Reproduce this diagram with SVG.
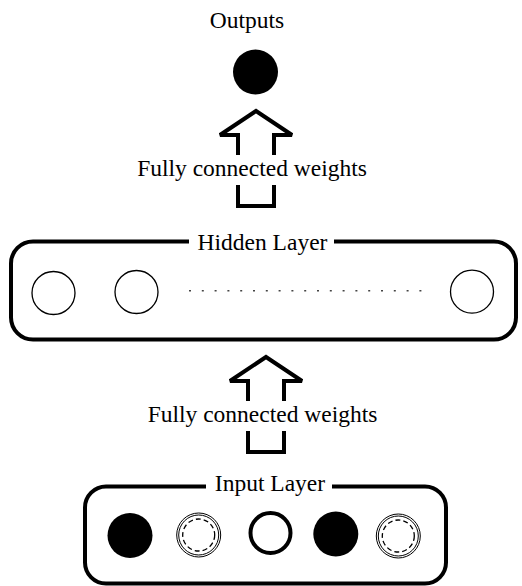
<svg xmlns="http://www.w3.org/2000/svg" width="522" height="586" viewBox="0 0 522 586">
  <style>
    .label { font-family: "Liberation Serif", "Times New Roman", serif; font-size: 23.5px; fill: #000; text-anchor: middle; }
    .box { fill: none; stroke: #000; stroke-width: 4; }
    .gap { fill: #fff; stroke: none; }
    .unit { fill: #fff; stroke: #000; stroke-width: 1.3; }
    .filled { fill: #000; stroke: none; }
    .thick { fill: #fff; stroke: #000; stroke-width: 4; }
    .ring { fill: none; stroke: #000; stroke-width: 1; }
    .dashring { fill: none; stroke: #000; stroke-width: 1.3; stroke-dasharray: 5 3; }
    .arrow { fill: none; stroke: #000; stroke-width: 4; stroke-linejoin: miter; stroke-miterlimit: 3; stroke-linecap: butt; }
  </style>
  <defs>
    <!-- hollow block arrow, split around its label -->
    <g id="blockArrow">
      <path class="arrow" d="M 238 155 V 135 H 220 L 256 111 L 292 135 H 274 V 155"/>
      <path class="arrow" d="M 238 185 V 206 H 274 V 185"/>
    </g>
    <g id="doubleUnit">
      <circle class="ring" r="22"/>
      <circle class="ring" r="20"/>
      <circle class="dashring" r="16"/>
    </g>
  </defs>

  <rect width="522" height="586" fill="#fff"/>

  <!-- output node -->
  <g id="outputs">
    <text class="label" x="247" y="28">Outputs</text>
    <circle class="filled" cx="255.5" cy="72" r="22.5"/>
  </g>

  <!-- hidden layer -->
  <g id="hidden-layer">
    <rect class="box" x="11" y="241.5" width="505" height="98" rx="22" ry="22"/>
    <rect class="gap" x="189" y="236" width="145" height="11"/>
    <text class="label" x="262.5" y="250">Hidden Layer</text>
    <circle class="unit" cx="53.5" cy="293" r="21.5"/>
    <circle class="unit" cx="136.5" cy="292" r="21.5"/>
    <line x1="189" y1="290.7" x2="423" y2="290.7" stroke="#444" stroke-width="1.6" stroke-dasharray="2 10.8"/>
    <circle class="unit" cx="472" cy="291.7" r="21.5"/>
  </g>

  <!-- input layer -->
  <g id="input-layer">
    <rect class="box" x="85" y="486.5" width="361" height="97" rx="21" ry="21"/>
    <rect class="gap" x="206" y="480" width="126" height="11"/>
    <text class="label" x="270" y="491">Input Layer</text>
    <circle class="filled" cx="130" cy="535.5" r="22.5"/>
    <use href="#doubleUnit" x="198.7" y="535"/>
    <circle class="thick" cx="270.5" cy="533" r="20"/>
    <circle class="filled" cx="335.8" cy="534" r="22.5"/>
    <use href="#doubleUnit" x="398.3" y="536"/>
  </g>

  <!-- connectors between layers -->
  <g id="connectors">
    <g id="hidden-to-output">
      <use href="#blockArrow"/>
      <text class="label" x="252" y="176">Fully connected weights</text>
    </g>
    <g id="input-to-hidden">
      <use href="#blockArrow" transform="translate(10 246)"/>
      <text class="label" x="262.5" y="422">Fully connected weights</text>
    </g>
  </g>
</svg>
